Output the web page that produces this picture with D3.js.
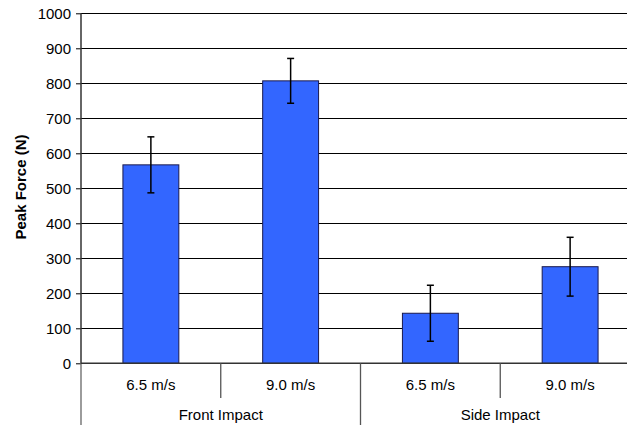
<!DOCTYPE html>
<html>
<head>
<meta charset="utf-8">
<script src="https://cdn.jsdelivr.net/npm/d3@7"></script>
<style>
  body { margin: 0; background: #fff; }
  svg { display: block; font-family: "Liberation Sans", Arial, sans-serif; }
</style>
</head>
<body>
<svg width="627" height="425"></svg>
<script>
// data
var groups = ["Front Impact", "Side Impact"];
var speeds = ["6.5 m/s", "9.0 m/s"];
var peakForce = [567, 807, 143, 276];
var errForce = [80, 64, 80, 84];
var yTicks = [0, 100, 200, 300, 400, 500, 600, 700, 800, 900, 1000];

var w = 627, h = 425;
var plotLeft = 81, plotTop = 13.3, zeroY = 363.3;
var plotRight = 640; // plot runs off the right edge of the picture

var svg = d3.select("svg");

// one slot per bar
var slots = [];
groups.forEach(function (g, gi) {
    speeds.forEach(function (s, si) {
        slots.push({ group: g, speed: s, key: gi + "-" + si });
    });
});
slots.forEach(function (d, i) {
    d.value = peakForce[i];
    d.err = errForce[i];
});

var x = d3.scaleBand()
    .domain(slots.map(d => d.key))
    .range([plotLeft, plotRight])
    .padding(0);

var y = d3.scaleLinear()
    .domain([0, 1000])
    .range([zeroY, plotTop]);

var barW = x.bandwidth() * 0.4;

// gridlines
svg.append("g")
    .selectAll("line")
    .data(yTicks.filter(d => d > 0))
    .enter()
    .append("line")
    .attr("x1", plotLeft)
    .attr("x2", plotRight)
    .attr("y1", d => Math.round(y(d)) + 0.5)
    .attr("y2", d => Math.round(y(d)) + 0.5)
    .attr("stroke", "#000")
    .attr("stroke-width", 1);

// bars
svg.append("g")
    .selectAll("rect")
    .data(slots)
    .enter()
    .append("rect")
    .attr("x", d => x(d.key) + (x.bandwidth() - barW) / 2)
    .attr("y", d => y(d.value))
    .attr("width", barW)
    .attr("height", d => y(0) - y(d.value))
    .attr("fill", "#3366FF")
    .attr("stroke", "#1a1a4d")
    .attr("stroke-width", 1);

// error bars
var eb = svg.append("g").attr("stroke", "#000").attr("stroke-width", 1.5);
slots.forEach(function (d) {
    var cx = x(d.key) + x.bandwidth() / 2;
    eb.append("line")
        .attr("x1", cx).attr("x2", cx)
        .attr("y1", y(d.value + d.err)).attr("y2", y(d.value - d.err));
    [d.value + d.err, d.value - d.err].forEach(function (v) {
        eb.append("line")
            .attr("x1", cx - 3.5).attr("x2", cx + 3.5)
            .attr("y1", y(v)).attr("y2", y(v));
    });
});

// y axis
var yAxis = d3.axisLeft(y)
    .tickValues(yTicks)
    .tickSize(5)
    .tickPadding(5)
    .tickFormat(d3.format("d"));

var ya = svg.append("g")
    .attr("transform", "translate(" + plotLeft + ",0)")
    .call(yAxis);
ya.select(".domain").remove();
ya.selectAll("line").attr("stroke", "#000");
ya.selectAll("text")
    .attr("font-size", 15)
    .attr("fill", "#000")
    .attr("font-family", "Liberation Sans, Arial, sans-serif");

// axis lines
svg.append("line")
    .attr("x1", plotLeft).attr("x2", plotLeft)
    .attr("y1", plotTop).attr("y2", zeroY)
    .attr("stroke", "#333").attr("stroke-width", 1.5);
svg.append("line")
    .attr("x1", plotLeft).attr("x2", plotLeft)
    .attr("y1", zeroY).attr("y2", h)
    .attr("stroke", "#666").attr("stroke-width", 1.3);
svg.append("line")
    .attr("x1", plotLeft).attr("x2", plotRight)
    .attr("y1", zeroY).attr("y2", zeroY)
    .attr("stroke", "#333").attr("stroke-width", 1.5);

// category separators
var subSep = slots.filter((d, i) => i % speeds.length !== 0).map(d => x(d.key));
var grpSep = slots.filter((d, i) => i % speeds.length === 0 && i > 0).map(d => x(d.key));

svg.append("g")
    .selectAll("line")
    .data(subSep)
    .enter()
    .append("line")
    .attr("x1", d => d).attr("x2", d => d)
    .attr("y1", zeroY).attr("y2", 398)
    .attr("stroke", "#555").attr("stroke-width", 1.3);

svg.append("g")
    .selectAll("line")
    .data(grpSep)
    .enter()
    .append("line")
    .attr("x1", d => d).attr("x2", d => d)
    .attr("y1", zeroY).attr("y2", h)
    .attr("stroke", "#555").attr("stroke-width", 1.3);

// speed labels
svg.append("g")
    .selectAll("text")
    .data(slots)
    .enter()
    .append("text")
    .attr("x", d => x(d.key) + x.bandwidth() / 2)
    .attr("y", 390)
    .attr("text-anchor", "middle")
    .attr("font-size", 15)
    .text(d => d.speed);

// group labels
svg.append("g")
    .selectAll("text")
    .data(groups)
    .enter()
    .append("text")
    .attr("x", (d, i) => x(slots[i * speeds.length].key) + x.bandwidth() * speeds.length / 2)
    .attr("y", 420)
    .attr("text-anchor", "middle")
    .attr("font-size", 15)
    .text(d => d);

// y axis title
svg.append("text")
    .attr("transform", "translate(26,187) rotate(-90)")
    .attr("text-anchor", "middle")
    .attr("font-size", 15)
    .attr("font-weight", "bold")
    .text("Peak Force (N)");
</script>
</body>
</html>
